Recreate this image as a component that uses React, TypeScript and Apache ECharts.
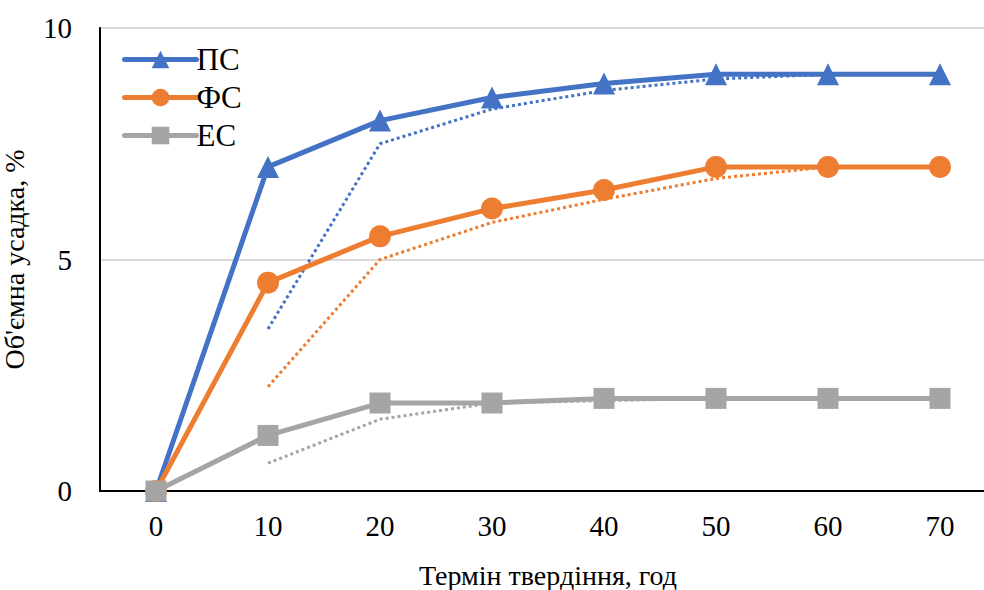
import React, { useEffect, useRef } from "react";
import * as echarts from "echarts";

const categories = ["0", "10", "20", "30", "40", "50", "60", "70"];
const psValues = [0, 7.0, 8.0, 8.5, 8.8, 9.0, 9.0, 9.0];
const fsValues = [0, 4.5, 5.5, 6.1, 6.5, 7.0, 7.0, 7.0];
const esValues = [0, 1.2, 1.9, 1.9, 2.0, 2.0, 2.0, 2.0];
const psTrend = [null, 3.5, 7.5, 8.25, 8.65, 8.9, 9.0, 9.0];
const fsTrend = [null, 2.25, 5.0, 5.8, 6.3, 6.75, 7.0, 7.0];
const esTrend = [null, 0.6, 1.55, 1.9, 1.95, 2.0, 2.0, 2.0];

const seriesNames = ["ПС", "ФС", "ЕС"];
const xTitle = "Термін твердіння, год";
const yTitle = "Об'ємна усадка, %";

const BLUE = "#4472C4";
const ORANGE = "#ED7D31";
const GRAY = "#A5A5A5";
const TEXT = "#000";
const FONT = "Liberation Serif";

const css = `.chart-box svg text, .chart-box svg tspan { font-family: 'Liberation Serif', 'Times New Roman', serif !important; }`;

export default function App() {
  const ref = useRef<HTMLDivElement>(null);
  useEffect(() => {
    if (!ref.current) return;
    const chart = echarts.init(ref.current, null, { renderer: "svg" });
    const solid = (name: string, data: number[], color: string, symbol: string, size: number) => ({
      name,
      type: "line",
      data,
      symbol,
      symbolSize: size,
      showSymbol: true,
      z: 3,
      lineStyle: { color, width: 5 },
      itemStyle: { color },
    });
    const dotted = (data: (number | null)[], color: string) => ({
      name: "trend",
      type: "line",
      data,
      symbol: "none",
      z: 2,
      lineStyle: { color, width: 3, type: "dotted" },
      itemStyle: { color },
    });
    const txt = (size: number) => ({ fontFamily: FONT, fontSize: size, color: TEXT });
    chart.setOption({
      animation: false,
      grid: {
        left: 100,
        top: 28,
        right: -12,
        bottom: 99,
        show: true,
        borderColor: "#000",
        borderWidth: 2,
        containLabel: false,
        outerBoundsMode: "none",
      },
      legend: {
        data: seriesNames,
        left: 117,
        top: 39,
        orient: "vertical",
        itemWidth: 72,
        itemHeight: 22,
        itemGap: 7,
        lineStyle: { width: 5, cap: "round" },
        textStyle: { ...txt(31), lineHeight: 30, padding: [0, 0, 0, -5] },
      },
      xAxis: {
        type: "category",
        data: categories,
        boundaryGap: true,
        axisLine: { show: true, lineStyle: { color: "#000", width: 2 } },
        axisTick: { show: false },
        axisLabel: { ...txt(29), margin: 20 },
        name: xTitle,
        nameLocation: "middle",
        nameGap: 70,
        nameTextStyle: { ...txt(28), lineHeight: 28 },
        splitLine: { show: false },
      },
      yAxis: {
        type: "value",
        min: 0,
        max: 10,
        interval: 5,
        axisLine: { show: true, lineStyle: { color: "#000", width: 2 } },
        axisTick: { show: false },
        axisLabel: { ...txt(29), margin: 28 },
        splitLine: { show: true, lineStyle: { color: "#d9d9d9", width: 2 } },
        name: yTitle,
        nameLocation: "middle",
        nameGap: 72,
        nameTextStyle: { ...txt(28), lineHeight: 28 },
      },
      series: [
        dotted(psTrend, BLUE),
        dotted(fsTrend, ORANGE),
        dotted(esTrend, GRAY),
        solid(seriesNames[0], psValues, BLUE, "triangle", 22),
        solid(seriesNames[1], fsValues, ORANGE, "circle", 22),
        solid(seriesNames[2], esValues, GRAY, "rect", 21),
      ],
    });
    return () => chart.dispose();
  }, []);
  return (
    <>
      <style>{css}</style>
      <div
        ref={ref}
        className="chart-box"
        style={{ width: 984, height: 590, position: "absolute", left: 0, top: 0, background: "#fff" }}
      />
    </>
  );
}
